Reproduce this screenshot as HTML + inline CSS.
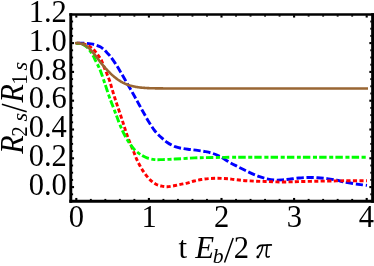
<!DOCTYPE html>
<html><head><meta charset="utf-8"><title>plot</title>
<style>
html,body{margin:0;padding:0;background:#fff;}
body{width:374px;height:266px;overflow:hidden;font-family:"Liberation Serif",serif;}
svg{display:block;will-change:transform;}
text{font-family:"Liberation Serif",serif;font-size:30px;fill:#000;}
.it{font-style:italic;}
.sub{font-size:21px;}
</style></head><body>
<svg width="374" height="266" viewBox="0 0 374 266">
<rect x="0" y="0" width="374" height="266" fill="#fff"/>
<g fill="none" stroke-width="2.9" stroke-linecap="butt" stroke-linejoin="round">
<path d="M76.30,43.20 C77.25,43.20 80.37,43.18 82.00,43.20 C83.63,43.22 84.60,43.18 86.10,43.30 C87.60,43.42 89.43,43.63 91.00,43.90 C92.57,44.17 93.97,44.42 95.50,44.90 C97.03,45.38 98.78,46.02 100.20,46.80 C101.62,47.58 102.90,48.65 104.00,49.60 C105.10,50.55 105.75,51.38 106.80,52.50 C107.85,53.62 108.83,54.40 110.30,56.30 C111.77,58.20 113.95,61.38 115.60,63.90 C117.25,66.42 118.67,68.83 120.20,71.40 C121.73,73.97 123.20,76.55 124.80,79.30 C126.40,82.05 128.18,85.07 129.80,87.90 C131.42,90.73 132.93,93.48 134.50,96.30 C136.07,99.12 137.63,101.97 139.20,104.80 C140.77,107.63 142.23,110.35 143.90,113.30 C145.57,116.25 147.37,119.55 149.20,122.50 C151.03,125.45 152.92,128.53 154.90,131.00 C156.88,133.47 159.03,135.38 161.10,137.30 C163.17,139.22 164.97,140.93 167.30,142.50 C169.63,144.07 172.55,145.70 175.10,146.70 C177.65,147.70 180.10,148.03 182.60,148.50 C185.10,148.97 187.60,149.18 190.10,149.50 C192.60,149.82 195.08,150.05 197.60,150.40 C200.12,150.75 202.68,151.10 205.20,151.60 C207.72,152.10 210.20,152.57 212.70,153.40 C215.20,154.23 217.38,155.12 220.20,156.60 C223.02,158.08 226.82,160.70 229.60,162.30 C232.38,163.90 234.42,164.92 236.90,166.20 C239.38,167.48 241.98,168.77 244.50,170.00 C247.02,171.23 249.50,172.48 252.00,173.60 C254.50,174.72 257.00,175.83 259.50,176.70 C262.00,177.57 264.48,178.25 267.00,178.80 C269.52,179.35 272.08,179.82 274.60,180.00 C277.12,180.18 279.63,180.03 282.10,179.90 C284.57,179.77 286.62,179.52 289.40,179.20 C292.18,178.88 295.67,178.28 298.80,178.00 C301.93,177.72 305.07,177.55 308.20,177.50 C311.33,177.45 314.47,177.52 317.60,177.70 C320.73,177.88 323.85,178.20 327.00,178.60 C330.15,179.00 333.75,179.57 336.50,180.10 C339.25,180.63 340.77,181.23 343.50,181.80 C346.23,182.37 350.07,183.03 352.90,183.50 C355.73,183.97 358.15,184.28 360.50,184.60 C362.85,184.92 365.92,185.27 367.00,185.40" stroke="#00f" stroke-dasharray="7.3,2.65" stroke-dashoffset="-0.7"/>
<path d="M76.30,43.20 C77.08,43.23 79.55,43.22 81.00,43.40 C82.45,43.58 83.68,43.87 85.00,44.30 C86.32,44.73 87.70,45.32 88.90,46.00 C90.10,46.68 91.18,47.55 92.20,48.40 C93.22,49.25 94.13,50.12 95.00,51.10 C95.87,52.08 96.60,53.22 97.40,54.30 C98.20,55.38 99.10,56.55 99.80,57.60 C100.50,58.65 100.92,59.10 101.60,60.60 C102.28,62.10 103.02,64.40 103.90,66.60 C104.78,68.80 105.92,71.35 106.90,73.80 C107.88,76.25 108.90,78.63 109.80,81.30 C110.70,83.97 111.45,86.98 112.30,89.80 C113.15,92.62 114.00,95.38 114.90,98.20 C115.80,101.02 116.75,103.87 117.70,106.70 C118.65,109.53 119.62,112.25 120.60,115.20 C121.58,118.15 122.65,121.45 123.60,124.40 C124.55,127.35 125.27,129.92 126.30,132.90 C127.33,135.88 128.60,139.25 129.80,142.30 C131.00,145.35 132.38,148.45 133.50,151.20 C134.62,153.95 135.40,156.33 136.50,158.80 C137.60,161.27 138.72,163.55 140.10,166.00 C141.48,168.45 143.08,171.15 144.80,173.50 C146.52,175.85 148.53,178.32 150.40,180.10 C152.27,181.88 154.12,183.20 156.00,184.20 C157.88,185.20 159.82,185.68 161.70,186.10 C163.58,186.52 165.27,186.75 167.30,186.70 C169.33,186.65 171.70,186.18 173.90,185.80 C176.10,185.42 178.30,184.85 180.50,184.40 C182.70,183.95 184.82,183.67 187.10,183.10 C189.38,182.53 191.82,181.60 194.20,181.00 C196.58,180.40 198.95,179.90 201.40,179.50 C203.85,179.10 206.38,178.80 208.90,178.60 C211.42,178.40 213.98,178.32 216.50,178.30 C219.02,178.28 221.53,178.37 224.00,178.50 C226.47,178.63 228.20,178.78 231.30,179.10 C234.40,179.42 238.83,180.07 242.60,180.40 C246.37,180.73 250.13,180.92 253.90,181.10 C257.67,181.28 261.43,181.37 265.20,181.50 C268.97,181.63 272.43,181.83 276.50,181.90 C280.57,181.97 285.88,181.95 289.60,181.90 C293.32,181.85 294.13,181.72 298.80,181.60 C303.47,181.48 311.32,181.32 317.60,181.20 C323.88,181.08 331.17,180.98 336.50,180.90 C341.83,180.82 344.52,180.73 349.60,180.70 C354.68,180.67 364.10,180.70 367.00,180.70" stroke="#f00" stroke-dasharray="4.1,2.36" stroke-dashoffset="0.5"/>
<path d="M76.30,43.20 C76.75,43.23 78.15,43.30 79.00,43.40 C79.85,43.50 80.68,43.60 81.40,43.80 C82.12,44.00 82.67,44.28 83.30,44.60 C83.93,44.92 84.58,45.27 85.20,45.70 C85.82,46.13 86.45,46.67 87.00,47.20 C87.55,47.73 87.95,48.25 88.50,48.90 C89.05,49.55 89.52,49.95 90.30,51.10 C91.08,52.25 92.33,54.22 93.20,55.80 C94.07,57.38 94.67,58.93 95.50,60.60 C96.33,62.27 97.35,64.03 98.20,65.80 C99.05,67.57 99.77,69.08 100.60,71.20 C101.43,73.32 102.30,75.88 103.20,78.50 C104.10,81.12 105.07,84.08 106.00,86.90 C106.93,89.72 107.87,92.73 108.80,95.40 C109.73,98.07 110.65,100.38 111.60,102.90 C112.55,105.42 113.57,108.07 114.50,110.50 C115.43,112.93 116.32,115.18 117.20,117.50 C118.08,119.82 118.75,121.83 119.80,124.40 C120.85,126.97 122.10,130.08 123.50,132.90 C124.90,135.72 126.47,138.63 128.20,141.30 C129.93,143.97 131.85,146.70 133.90,148.90 C135.95,151.10 138.32,153.00 140.50,154.50 C142.68,156.00 144.65,157.05 147.00,157.90 C149.35,158.75 152.00,159.32 154.60,159.60 C157.20,159.88 159.70,159.67 162.60,159.60 C165.50,159.53 168.85,159.35 172.00,159.20 C175.15,159.05 177.73,158.92 181.50,158.70 C185.27,158.48 190.65,158.08 194.60,157.90 C198.55,157.72 200.93,157.68 205.20,157.60 C209.47,157.52 214.40,157.47 220.20,157.40 C226.00,157.33 226.70,157.23 240.00,157.20 C253.30,157.17 278.83,157.20 300.00,157.20 C321.17,157.20 355.83,157.20 367.00,157.20" stroke="#0f0" stroke-dasharray="7.4,2.6,4.0,2.17" stroke-dashoffset="10.55"/>
<path d="M76.30,43.20 C76.75,43.22 78.15,43.22 79.00,43.30 C79.85,43.38 80.37,43.35 81.40,43.70 C82.43,44.05 84.02,44.72 85.20,45.40 C86.38,46.08 87.48,46.93 88.50,47.80 C89.52,48.67 90.37,49.58 91.30,50.60 C92.23,51.62 93.17,52.73 94.10,53.90 C95.03,55.07 96.03,56.45 96.90,57.60 C97.77,58.75 98.74,60.05 99.30,60.80 C99.86,61.55 99.98,61.73 100.26,62.09 C100.54,62.46 100.74,62.67 100.98,62.96 C101.23,63.25 101.47,63.54 101.71,63.82 C101.95,64.11 102.19,64.39 102.44,64.68 C102.68,64.96 102.92,65.25 103.16,65.53 C103.40,65.81 103.65,66.09 103.89,66.37 C104.13,66.65 104.37,66.93 104.61,67.20 C104.86,67.48 105.10,67.75 105.34,68.02 C105.58,68.29 105.82,68.56 106.07,68.83 C106.31,69.10 106.55,69.36 106.79,69.62 C107.03,69.89 107.28,70.15 107.52,70.41 C107.76,70.66 108.00,70.92 108.24,71.17 C108.49,71.42 108.73,71.67 108.97,71.92 C109.21,72.17 109.45,72.41 109.70,72.65 C109.94,72.90 110.18,73.13 110.42,73.37 C110.66,73.61 110.91,73.84 111.15,74.07 C111.39,74.30 111.63,74.52 111.87,74.75 C112.12,74.97 112.36,75.19 112.60,75.41 C112.84,75.62 113.08,75.84 113.33,76.05 C113.57,76.26 113.81,76.46 114.05,76.67 C114.29,76.87 114.54,77.07 114.78,77.27 C115.02,77.47 115.26,77.66 115.50,77.85 C115.75,78.04 115.99,78.23 116.23,78.41 C116.47,78.59 116.71,78.78 116.96,78.95 C117.20,79.13 117.44,79.30 117.68,79.47 C117.92,79.64 118.17,79.81 118.41,79.97 C118.65,80.14 118.89,80.30 119.13,80.45 C119.38,80.61 119.62,80.76 119.86,80.91 C120.10,81.06 120.34,81.21 120.59,81.36 C120.83,81.50 121.07,81.64 121.31,81.78 C121.55,81.92 121.80,82.05 122.04,82.18 C122.28,82.31 122.52,82.44 122.76,82.57 C123.01,82.69 123.25,82.81 123.49,82.93 C123.73,83.05 123.97,83.17 124.22,83.28 C124.46,83.40 124.70,83.51 124.94,83.61 C125.18,83.72 125.43,83.83 125.67,83.93 C125.91,84.03 126.15,84.13 126.39,84.23 C126.64,84.33 126.88,84.42 127.12,84.51 C127.36,84.60 127.60,84.69 127.85,84.78 C128.09,84.87 128.33,84.95 128.57,85.03 C128.81,85.11 129.06,85.19 129.30,85.27 C129.54,85.35 129.78,85.42 130.02,85.50 C130.27,85.57 130.51,85.64 130.75,85.71 C130.99,85.78 131.23,85.84 131.48,85.91 C131.72,85.97 131.96,86.04 132.20,86.10 C132.44,86.16 132.69,86.21 132.93,86.27 C133.17,86.33 133.41,86.38 133.65,86.44 C133.90,86.49 134.14,86.54 134.38,86.59 C134.62,86.64 134.86,86.69 135.11,86.73 C135.35,86.78 135.59,86.83 135.83,86.87 C136.07,86.91 136.32,86.95 136.56,86.99 C136.80,87.03 137.04,87.07 137.28,87.11 C137.53,87.15 137.77,87.19 138.01,87.22 C138.25,87.26 138.49,87.29 138.74,87.32 C138.98,87.35 139.22,87.39 139.46,87.42 C139.70,87.45 139.95,87.47 140.19,87.50 C140.43,87.53 140.67,87.56 140.91,87.58 C141.16,87.61 141.40,87.63 141.64,87.66 C141.88,87.68 142.12,87.71 142.37,87.73 C142.61,87.75 142.85,87.77 143.09,87.79 C143.33,87.81 143.58,87.83 143.82,87.85 C144.06,87.87 144.30,87.89 144.54,87.90 C144.79,87.92 145.03,87.94 145.27,87.95 C145.51,87.97 145.75,87.99 146.00,88.00 C146.24,88.01 146.48,88.03 146.72,88.04 C146.96,88.06 147.21,88.07 147.45,88.08 C147.69,88.09 147.93,88.11 148.17,88.12 C148.42,88.13 148.66,88.14 148.90,88.15 C149.14,88.16 149.38,88.17 149.63,88.18 C149.87,88.19 150.11,88.20 150.35,88.21 C150.59,88.21 150.84,88.22 151.08,88.23 C151.32,88.24 151.56,88.25 151.80,88.25 C152.05,88.26 152.29,88.27 152.53,88.27 C152.77,88.28 153.01,88.29 153.26,88.29 C153.50,88.30 153.74,88.30 153.98,88.31 C154.22,88.31 154.47,88.32 154.71,88.32 C154.95,88.33 155.19,88.33 155.43,88.34 C155.68,88.34 155.92,88.35 156.16,88.35 C156.40,88.35 156.64,88.36 156.89,88.36 C157.13,88.37 157.37,88.37 157.61,88.37 C157.85,88.38 158.10,88.38 158.34,88.38 C158.58,88.38 158.82,88.39 159.06,88.39 C159.31,88.39 159.55,88.40 159.79,88.40 C160.03,88.40 160.27,88.40 160.52,88.40 C160.76,88.41 161.00,88.41 161.24,88.41 C161.48,88.41 161.73,88.41 161.97,88.42 C162.21,88.42 162.45,88.42 162.69,88.42 C162.94,88.42 163.18,88.42 163.42,88.43 C163.66,88.43 163.90,88.43 164.15,88.43 C164.39,88.43 164.63,88.43 164.87,88.43 C165.11,88.43 165.36,88.43 165.60,88.44 C165.84,88.44 166.08,88.44 166.32,88.44 C166.57,88.44 166.81,88.44 167.05,88.44 C167.29,88.44 167.53,88.44 167.78,88.44 C168.02,88.44 168.26,88.44 168.50,88.45 C168.74,88.45 168.99,88.45 169.23,88.45 C169.47,88.45 169.71,88.45 169.95,88.45 C170.20,88.45 170.44,88.45 170.68,88.45 C170.92,88.45 171.16,88.45 171.41,88.45 C171.65,88.45 171.89,88.45 172.13,88.45 C172.37,88.45 172.62,88.45 172.86,88.45 C173.10,88.45 173.34,88.45 173.58,88.45 C173.83,88.45 174.07,88.45 174.31,88.45 C174.55,88.46 174.79,88.46 175.04,88.46 C175.28,88.46 175.52,88.46 175.76,88.46 C176.00,88.46 176.25,88.46 176.49,88.46 C176.73,88.46 176.97,88.46 177.21,88.46 C177.46,88.46 177.70,88.46 177.94,88.46 C178.18,88.46 178.42,88.46 178.67,88.46 C178.91,88.46 179.15,88.46 179.39,88.46 C179.63,88.46 179.88,88.46 180.12,88.46 C180.36,88.46 180.60,88.46 180.84,88.46 C181.09,88.46 181.33,88.46 181.57,88.46 C181.81,88.46 182.05,88.46 182.30,88.46 C182.54,88.46 182.78,88.46 183.02,88.46 C183.26,88.46 183.51,88.46 183.75,88.46 C183.99,88.46 184.23,88.46 184.47,88.46 C184.72,88.46 184.96,88.46 185.20,88.46 C185.44,88.46 185.68,88.46 185.93,88.46 C186.17,88.46 186.41,88.46 186.65,88.46 C186.89,88.46 187.14,88.46 187.38,88.46 C187.62,88.46 187.86,88.46 188.10,88.46 C188.35,88.46 188.59,88.46 188.83,88.46 C189.07,88.46 189.31,88.46 189.56,88.46 C189.80,88.46 190.04,88.46 190.28,88.46 C190.52,88.46 190.77,88.46 191.01,88.46 C191.25,88.46 191.49,88.46 191.73,88.46 C191.98,88.46 192.22,88.46 192.46,88.46 C192.70,88.46 192.94,88.46 193.19,88.46 C193.43,88.46 193.67,88.46 193.91,88.46 C194.15,88.46 194.40,88.46 194.64,88.46 C194.88,88.46 195.12,88.46 195.36,88.46 C195.61,88.46 195.85,88.46 196.09,88.46 C196.33,88.46 196.57,88.46 196.82,88.46 C197.06,88.46 197.30,88.46 197.54,88.46 C197.78,88.46 198.03,88.46 198.27,88.46 C198.51,88.46 198.75,88.46 198.99,88.46 C199.24,88.46 199.48,88.46 199.72,88.46 C199.96,88.46 200.20,88.46 200.45,88.46 C200.69,88.46 200.93,88.46 201.17,88.46 C201.41,88.46 201.66,88.46 201.90,88.46 C202.14,88.46 202.38,88.46 202.62,88.46 C202.87,88.46 203.11,88.46 203.35,88.46 C203.59,88.46 203.83,88.46 204.08,88.46 C204.32,88.46 204.56,88.46 204.80,88.46 C205.04,88.46 205.29,88.46 205.53,88.46 C205.77,88.46 206.01,88.46 206.25,88.46 C206.50,88.46 206.74,88.46 206.98,88.46 C207.22,88.46 207.46,88.46 207.71,88.46 C207.95,88.46 208.19,88.46 208.43,88.46 C208.67,88.46 208.92,88.46 209.16,88.46 C209.40,88.46 209.64,88.46 209.88,88.46 C210.13,88.46 210.37,88.46 210.61,88.46 C210.85,88.46 211.09,88.46 211.34,88.46 C211.58,88.46 211.82,88.46 212.06,88.46 C212.30,88.46 212.55,88.46 212.79,88.46 C213.03,88.46 213.27,88.46 213.51,88.46 C213.76,88.46 214.00,88.46 214.24,88.46 C214.48,88.46 214.72,88.46 214.97,88.46 C215.21,88.46 215.45,88.46 215.69,88.46 C215.93,88.46 216.18,88.46 216.42,88.46 C216.66,88.46 216.90,88.46 217.14,88.46 C217.39,88.46 217.63,88.46 217.87,88.46 C218.11,88.46 218.35,88.46 218.60,88.46 C218.84,88.46 219.08,88.46 219.32,88.46 C219.56,88.46 219.81,88.46 220.05,88.46 C220.29,88.46 220.53,88.46 220.77,88.46 C221.02,88.46 221.26,88.46 221.50,88.46 C221.74,88.46 221.98,88.46 222.23,88.46 C222.47,88.46 222.71,88.46 222.95,88.46 C223.19,88.46 223.44,88.46 223.68,88.46 C223.92,88.46 224.16,88.46 224.40,88.46 C224.65,88.46 224.89,88.46 225.13,88.46 C225.37,88.46 225.61,88.46 225.86,88.46 C226.10,88.46 226.34,88.46 226.58,88.46 C226.82,88.46 227.07,88.46 227.31,88.46 C227.55,88.46 227.79,88.46 228.03,88.46 C228.28,88.46 228.52,88.46 228.76,88.46 C229.00,88.46 229.24,88.46 229.49,88.46 C229.73,88.46 229.97,88.46 230.21,88.46 C230.45,88.46 230.70,88.46 230.94,88.46 C231.18,88.46 231.42,88.46 231.66,88.46 C231.91,88.46 232.15,88.46 232.39,88.46 C232.63,88.46 232.87,88.46 233.12,88.46 C233.36,88.46 233.60,88.46 233.84,88.46 C234.08,88.46 234.33,88.46 234.57,88.46 C234.81,88.46 235.05,88.46 235.29,88.46 C235.54,88.46 235.78,88.46 236.02,88.46 C236.26,88.46 236.50,88.46 236.75,88.46 C236.99,88.46 237.23,88.46 237.47,88.46 C237.71,88.46 237.96,88.46 238.20,88.46 C238.44,88.46 238.68,88.46 238.92,88.46 C239.17,88.46 239.41,88.46 239.65,88.46 C239.89,88.46 240.13,88.46 240.38,88.46 C240.62,88.46 240.86,88.46 241.10,88.46 C241.34,88.46 241.59,88.46 241.83,88.46 C242.07,88.46 242.31,88.46 242.55,88.46 C242.80,88.46 243.04,88.46 243.28,88.46 C243.52,88.46 243.76,88.46 244.01,88.46 C244.25,88.46 244.49,88.46 244.73,88.46 C244.97,88.46 245.22,88.46 245.46,88.46 C245.70,88.46 245.94,88.46 246.18,88.46 C246.43,88.46 246.67,88.46 246.91,88.46 C247.15,88.46 247.39,88.46 247.64,88.46 C247.88,88.46 248.12,88.46 248.36,88.46 C248.60,88.46 248.85,88.46 249.09,88.46 C249.33,88.46 249.57,88.46 249.81,88.46 C250.06,88.46 250.30,88.46 250.54,88.46 C250.78,88.46 251.02,88.46 251.27,88.46 C251.51,88.46 251.75,88.46 251.99,88.46 C252.23,88.46 252.48,88.46 252.72,88.46 C252.96,88.46 253.20,88.46 253.44,88.46 C253.69,88.46 253.93,88.46 254.17,88.46 C254.41,88.46 254.65,88.46 254.90,88.46 C255.14,88.46 255.38,88.46 255.62,88.46 C255.86,88.46 256.11,88.46 256.35,88.46 C256.59,88.46 256.83,88.46 257.07,88.46 C257.32,88.46 257.56,88.46 257.80,88.46 C258.04,88.46 258.28,88.46 258.53,88.46 C258.77,88.46 259.01,88.46 259.25,88.46 C259.49,88.46 259.74,88.46 259.98,88.46 C260.22,88.46 260.46,88.46 260.70,88.46 C260.95,88.46 261.19,88.46 261.43,88.46 C261.67,88.46 261.91,88.46 262.16,88.46 C262.40,88.46 262.64,88.46 262.88,88.46 C263.12,88.46 263.37,88.46 263.61,88.46 C263.85,88.46 264.09,88.46 264.33,88.46 C264.58,88.46 264.82,88.46 265.06,88.46 C265.30,88.46 265.54,88.46 265.79,88.46 C266.03,88.46 266.27,88.46 266.51,88.46 C266.75,88.46 267.00,88.46 267.24,88.46 C267.48,88.46 267.72,88.46 267.96,88.46 C268.21,88.46 268.45,88.46 268.69,88.46 C268.93,88.46 269.17,88.46 269.42,88.46 C269.66,88.46 269.90,88.46 270.14,88.46 C270.38,88.46 270.63,88.46 270.87,88.46 C271.11,88.46 271.35,88.46 271.59,88.46 C271.84,88.46 272.08,88.46 272.32,88.46 C272.56,88.46 272.80,88.46 273.05,88.46 C273.29,88.46 273.53,88.46 273.77,88.46 C274.01,88.46 274.26,88.46 274.50,88.46 C274.74,88.46 274.98,88.46 275.22,88.46 C275.47,88.46 275.71,88.46 275.95,88.46 C276.19,88.46 276.43,88.46 276.68,88.46 C276.92,88.46 277.16,88.46 277.40,88.46 C277.64,88.46 277.89,88.46 278.13,88.46 C278.37,88.46 278.61,88.46 278.85,88.46 C279.10,88.46 279.34,88.46 279.58,88.46 C279.82,88.46 280.06,88.46 280.31,88.46 C280.55,88.46 280.79,88.46 281.03,88.46 C281.27,88.46 281.52,88.46 281.76,88.46 C282.00,88.46 282.24,88.46 282.48,88.46 C282.73,88.46 282.97,88.46 283.21,88.46 C283.45,88.46 283.69,88.46 283.94,88.46 C284.18,88.46 284.42,88.46 284.66,88.46 C284.90,88.46 285.15,88.46 285.39,88.46 C285.63,88.46 285.87,88.46 286.11,88.46 C286.36,88.46 286.60,88.46 286.84,88.46 C287.08,88.46 287.32,88.46 287.57,88.46 C287.81,88.46 288.05,88.46 288.29,88.46 C288.53,88.46 288.78,88.46 289.02,88.46 C289.26,88.46 289.50,88.46 289.74,88.46 C289.99,88.46 290.23,88.46 290.47,88.46 C290.71,88.46 290.95,88.46 291.20,88.46 C291.44,88.46 291.68,88.46 291.92,88.46 C292.16,88.46 292.41,88.46 292.65,88.46 C292.89,88.46 293.13,88.46 293.37,88.46 C293.62,88.46 293.86,88.46 294.10,88.46 C294.34,88.46 294.58,88.46 294.83,88.46 C295.07,88.46 295.31,88.46 295.55,88.46 C295.79,88.46 296.04,88.46 296.28,88.46 C296.52,88.46 296.76,88.46 297.00,88.46 C297.25,88.46 297.49,88.46 297.73,88.46 C297.97,88.46 298.21,88.46 298.46,88.46 C298.70,88.46 298.94,88.46 299.18,88.46 C299.42,88.46 299.67,88.46 299.91,88.46 C300.15,88.46 300.39,88.46 300.63,88.46 C300.88,88.46 301.12,88.46 301.36,88.46 C301.60,88.46 301.84,88.46 302.09,88.46 C302.33,88.46 302.57,88.46 302.81,88.46 C303.05,88.46 303.30,88.46 303.54,88.46 C303.78,88.46 304.02,88.46 304.26,88.46 C304.51,88.46 304.75,88.46 304.99,88.46 C305.23,88.46 305.47,88.46 305.72,88.46 C305.96,88.46 306.20,88.46 306.44,88.46 C306.68,88.46 306.93,88.46 307.17,88.46 C307.41,88.46 307.65,88.46 307.89,88.46 C308.14,88.46 308.38,88.46 308.62,88.46 C308.86,88.46 309.10,88.46 309.35,88.46 C309.59,88.46 309.83,88.46 310.07,88.46 C310.31,88.46 310.56,88.46 310.80,88.46 C311.04,88.46 311.28,88.46 311.52,88.46 C311.77,88.46 312.01,88.46 312.25,88.46 C312.49,88.46 312.73,88.46 312.98,88.46 C313.22,88.46 313.46,88.46 313.70,88.46 C313.94,88.46 314.19,88.46 314.43,88.46 C314.67,88.46 314.91,88.46 315.15,88.46 C315.40,88.46 315.64,88.46 315.88,88.46 C316.12,88.46 316.36,88.46 316.61,88.46 C316.85,88.46 317.09,88.46 317.33,88.46 C317.57,88.46 317.82,88.46 318.06,88.46 C318.30,88.46 318.54,88.46 318.78,88.46 C319.03,88.46 319.27,88.46 319.51,88.46 C319.75,88.46 319.99,88.46 320.24,88.46 C320.48,88.46 320.72,88.46 320.96,88.46 C321.20,88.46 321.45,88.46 321.69,88.46 C321.93,88.46 322.17,88.46 322.41,88.46 C322.66,88.46 322.90,88.46 323.14,88.46 C323.38,88.46 323.62,88.46 323.87,88.46 C324.11,88.46 324.35,88.46 324.59,88.46 C324.83,88.46 325.08,88.46 325.32,88.46 C325.56,88.46 325.80,88.46 326.04,88.46 C326.29,88.46 326.53,88.46 326.77,88.46 C327.01,88.46 327.25,88.46 327.50,88.46 C327.74,88.46 327.98,88.46 328.22,88.46 C328.46,88.46 328.71,88.46 328.95,88.46 C329.19,88.46 329.43,88.46 329.67,88.46 C329.92,88.46 330.16,88.46 330.40,88.46 C330.64,88.46 330.88,88.46 331.13,88.46 C331.37,88.46 331.61,88.46 331.85,88.46 C332.09,88.46 332.34,88.46 332.58,88.46 C332.82,88.46 333.06,88.46 333.30,88.46 C333.55,88.46 333.79,88.46 334.03,88.46 C334.27,88.46 334.51,88.46 334.76,88.46 C335.00,88.46 335.24,88.46 335.48,88.46 C335.72,88.46 335.97,88.46 336.21,88.46 C336.45,88.46 336.69,88.46 336.93,88.46 C337.18,88.46 337.42,88.46 337.66,88.46 C337.90,88.46 338.14,88.46 338.39,88.46 C338.63,88.46 338.87,88.46 339.11,88.46 C339.35,88.46 339.60,88.46 339.84,88.46 C340.08,88.46 340.32,88.46 340.56,88.46 C340.81,88.46 341.05,88.46 341.29,88.46 C341.53,88.46 341.77,88.46 342.02,88.46 C342.26,88.46 342.50,88.46 342.74,88.46 C342.98,88.46 343.23,88.46 343.47,88.46 C343.71,88.46 343.95,88.46 344.19,88.46 C344.44,88.46 344.68,88.46 344.92,88.46 C345.16,88.46 345.40,88.46 345.65,88.46 C345.89,88.46 346.13,88.46 346.37,88.46 C346.61,88.46 346.86,88.46 347.10,88.46 C347.34,88.46 347.58,88.46 347.82,88.46 C348.07,88.46 348.31,88.46 348.55,88.46 C348.79,88.46 349.03,88.46 349.28,88.46 C349.52,88.46 349.76,88.46 350.00,88.46 C350.24,88.46 350.49,88.46 350.73,88.46 C350.97,88.46 351.21,88.46 351.45,88.46 C351.70,88.46 351.94,88.46 352.18,88.46 C352.42,88.46 352.66,88.46 352.91,88.46 C353.15,88.46 353.39,88.46 353.63,88.46 C353.87,88.46 354.12,88.46 354.36,88.46 C354.60,88.46 354.84,88.46 355.08,88.46 C355.33,88.46 355.57,88.46 355.81,88.46 C356.05,88.46 356.29,88.46 356.54,88.46 C356.78,88.46 357.02,88.46 357.26,88.46 C357.50,88.46 357.75,88.46 357.99,88.46 C358.23,88.46 358.47,88.46 358.71,88.46 C358.96,88.46 359.20,88.46 359.44,88.46 C359.68,88.46 359.92,88.46 360.17,88.46 C360.41,88.46 360.65,88.46 360.89,88.46 C361.13,88.46 361.38,88.46 361.62,88.46 C361.86,88.46 362.10,88.46 362.34,88.46 C362.59,88.46 362.83,88.46 363.07,88.46 C363.31,88.46 363.55,88.46 363.80,88.46 C364.04,88.46 364.28,88.46 364.52,88.46 C364.76,88.46 365.01,88.46 365.25,88.46 C365.49,88.46 365.73,88.46 365.97,88.46 C366.22,88.46 366.58,88.46 366.70,88.46" stroke="#963" stroke-width="2.6" stroke-linecap="square"/>
</g>
<g fill="#000"><rect x="75.25" y="197.95" width="2.10" height="2.30"/><rect x="75.25" y="15.25" width="2.10" height="2.30"/><rect x="89.87" y="198.90" width="1.90" height="1.35"/><rect x="89.87" y="15.25" width="1.90" height="1.35"/><rect x="104.39" y="198.90" width="1.90" height="1.35"/><rect x="104.39" y="15.25" width="1.90" height="1.35"/><rect x="118.91" y="198.90" width="1.90" height="1.35"/><rect x="118.91" y="15.25" width="1.90" height="1.35"/><rect x="133.43" y="198.90" width="1.90" height="1.35"/><rect x="133.43" y="15.25" width="1.90" height="1.35"/><rect x="147.85" y="197.95" width="2.10" height="2.30"/><rect x="147.85" y="15.25" width="2.10" height="2.30"/><rect x="162.47" y="198.90" width="1.90" height="1.35"/><rect x="162.47" y="15.25" width="1.90" height="1.35"/><rect x="176.99" y="198.90" width="1.90" height="1.35"/><rect x="176.99" y="15.25" width="1.90" height="1.35"/><rect x="191.51" y="198.90" width="1.90" height="1.35"/><rect x="191.51" y="15.25" width="1.90" height="1.35"/><rect x="206.03" y="198.90" width="1.90" height="1.35"/><rect x="206.03" y="15.25" width="1.90" height="1.35"/><rect x="220.45" y="197.95" width="2.10" height="2.30"/><rect x="220.45" y="15.25" width="2.10" height="2.30"/><rect x="235.07" y="198.90" width="1.90" height="1.35"/><rect x="235.07" y="15.25" width="1.90" height="1.35"/><rect x="249.59" y="198.90" width="1.90" height="1.35"/><rect x="249.59" y="15.25" width="1.90" height="1.35"/><rect x="264.11" y="198.90" width="1.90" height="1.35"/><rect x="264.11" y="15.25" width="1.90" height="1.35"/><rect x="278.63" y="198.90" width="1.90" height="1.35"/><rect x="278.63" y="15.25" width="1.90" height="1.35"/><rect x="293.05" y="197.95" width="2.10" height="2.30"/><rect x="293.05" y="15.25" width="2.10" height="2.30"/><rect x="307.67" y="198.90" width="1.90" height="1.35"/><rect x="307.67" y="15.25" width="1.90" height="1.35"/><rect x="322.19" y="198.90" width="1.90" height="1.35"/><rect x="322.19" y="15.25" width="1.90" height="1.35"/><rect x="336.71" y="198.90" width="1.90" height="1.35"/><rect x="336.71" y="15.25" width="1.90" height="1.35"/><rect x="351.23" y="198.90" width="1.90" height="1.35"/><rect x="351.23" y="15.25" width="1.90" height="1.35"/><rect x="365.65" y="197.95" width="2.10" height="2.30"/><rect x="365.65" y="15.25" width="2.10" height="2.30"/><rect x="71.75" y="193.35" width="1.35" height="1.90"/><rect x="370.30" y="193.35" width="1.35" height="1.90"/><rect x="71.75" y="186.05" width="2.30" height="2.10"/><rect x="369.35" y="186.05" width="2.30" height="2.10"/><rect x="71.75" y="178.95" width="1.35" height="1.90"/><rect x="370.30" y="178.95" width="1.35" height="1.90"/><rect x="71.75" y="171.75" width="1.35" height="1.90"/><rect x="370.30" y="171.75" width="1.35" height="1.90"/><rect x="71.75" y="164.55" width="1.35" height="1.90"/><rect x="370.30" y="164.55" width="1.35" height="1.90"/><rect x="71.75" y="157.25" width="2.30" height="2.10"/><rect x="369.35" y="157.25" width="2.30" height="2.10"/><rect x="71.75" y="150.15" width="1.35" height="1.90"/><rect x="370.30" y="150.15" width="1.35" height="1.90"/><rect x="71.75" y="142.95" width="1.35" height="1.90"/><rect x="370.30" y="142.95" width="1.35" height="1.90"/><rect x="71.75" y="135.75" width="1.35" height="1.90"/><rect x="370.30" y="135.75" width="1.35" height="1.90"/><rect x="71.75" y="128.45" width="2.30" height="2.10"/><rect x="369.35" y="128.45" width="2.30" height="2.10"/><rect x="71.75" y="121.35" width="1.35" height="1.90"/><rect x="370.30" y="121.35" width="1.35" height="1.90"/><rect x="71.75" y="114.15" width="1.35" height="1.90"/><rect x="370.30" y="114.15" width="1.35" height="1.90"/><rect x="71.75" y="106.95" width="1.35" height="1.90"/><rect x="370.30" y="106.95" width="1.35" height="1.90"/><rect x="71.75" y="99.65" width="2.30" height="2.10"/><rect x="369.35" y="99.65" width="2.30" height="2.10"/><rect x="71.75" y="92.55" width="1.35" height="1.90"/><rect x="370.30" y="92.55" width="1.35" height="1.90"/><rect x="71.75" y="85.35" width="1.35" height="1.90"/><rect x="370.30" y="85.35" width="1.35" height="1.90"/><rect x="71.75" y="78.15" width="1.35" height="1.90"/><rect x="370.30" y="78.15" width="1.35" height="1.90"/><rect x="71.75" y="70.85" width="2.30" height="2.10"/><rect x="369.35" y="70.85" width="2.30" height="2.10"/><rect x="71.75" y="63.75" width="1.35" height="1.90"/><rect x="370.30" y="63.75" width="1.35" height="1.90"/><rect x="71.75" y="56.55" width="1.35" height="1.90"/><rect x="370.30" y="56.55" width="1.35" height="1.90"/><rect x="71.75" y="49.35" width="1.35" height="1.90"/><rect x="370.30" y="49.35" width="1.35" height="1.90"/><rect x="71.75" y="42.05" width="2.30" height="2.10"/><rect x="369.35" y="42.05" width="2.30" height="2.10"/><rect x="71.75" y="34.95" width="1.35" height="1.90"/><rect x="370.30" y="34.95" width="1.35" height="1.90"/><rect x="71.75" y="27.75" width="1.35" height="1.90"/><rect x="370.30" y="27.75" width="1.35" height="1.90"/><rect x="71.75" y="20.55" width="1.35" height="1.90"/><rect x="370.30" y="20.55" width="1.35" height="1.90"/><rect x="69.35" y="13.25" width="304.65" height="2.50"/><rect x="69.35" y="199.75" width="304.65" height="3.00"/><rect x="69.35" y="13.25" width="2.90" height="189.50"/><rect x="371.15" y="13.25" width="2.85" height="189.50"/></g>
<text class="" transform="translate(66.90,194.60) scale(1.020,1.025)" text-anchor="end">0.0</text><text class="" transform="translate(66.90,165.80) scale(1.020,1.025)" text-anchor="end">0.2</text><text class="" transform="translate(66.90,137.00) scale(1.020,1.025)" text-anchor="end">0.4</text><text class="" transform="translate(66.90,108.20) scale(1.020,1.025)" text-anchor="end">0.6</text><text class="" transform="translate(66.90,79.80) scale(1.020,1.025)" text-anchor="end">0.8</text><text class="" transform="translate(66.90,50.60) scale(1.020,1.025)" text-anchor="end">1.0</text><text class="" transform="translate(66.90,21.80) scale(1.020,1.025)" text-anchor="end">1.2</text><text class="" transform="translate(76.50,227.30) scale(1.020,1.025)" text-anchor="middle">0</text><text class="" transform="translate(149.10,227.30) scale(1.020,1.025)" text-anchor="middle">1</text><text class="" transform="translate(221.70,227.30) scale(1.020,1.025)" text-anchor="middle">2</text><text class="" transform="translate(294.30,227.30) scale(1.020,1.025)" text-anchor="middle">3</text><text class="" transform="translate(366.30,227.30) scale(1.020,1.025)" text-anchor="middle">4</text>
<g transform="translate(22.7,153.7) rotate(-90)">
<text class="it" transform="translate(0.00,0.00) scale(1.000,1.100)" text-anchor="start">R</text><text class="sub" transform="translate(16.90,4.00) scale(1.000,1.080)" text-anchor="start">2</text><text class="sub it" transform="translate(32.30,4.00) scale(1.050,1.000)" text-anchor="start">s</text><line x1="41.9" y1="4" x2="49.4" y2="-20.8" stroke="#000" stroke-width="1.5"/><text class="it" transform="translate(51.30,0.00) scale(1.000,1.100)" text-anchor="start">R</text><text class="sub" transform="translate(69.00,4.00) scale(1.000,1.080)" text-anchor="start">1</text><text class="sub it" transform="translate(83.30,4.00) scale(1.050,1.000)" text-anchor="start">s</text>
</g>
<text class="" transform="translate(178.50,258.40) scale(1.030,1.030)" text-anchor="start">t</text><text class="it" transform="translate(195.30,258.40) scale(1.030,1.035)" text-anchor="start">E</text><text class="sub it" transform="translate(212.80,262.80) scale(1.030,1.000)" text-anchor="start">b</text><line x1="224.5" y1="262.5" x2="233.2" y2="238" stroke="#000" stroke-width="1.5"/><text class="" transform="translate(233.80,258.40) scale(1.020,1.070)" text-anchor="start">2</text><g fill="none" stroke="#000" stroke-linecap="round"><path d="M257.4,248.2 Q258.5,245.6 261.2,245.4 L271.3,244.95" stroke-width="1.7"/><path d="M262.8,245.6 C262.2,250 260.9,253 259.2,255.2" stroke-width="1.5"/><circle cx="257.9" cy="256.7" r="0.8" stroke-width="1.5"/><path d="M267.2,245.4 C266.7,250 266.0,253 266.2,255.3 Q266.5,257.9 269.2,256.6" stroke-width="1.6"/></g>
</svg>
</body></html>
